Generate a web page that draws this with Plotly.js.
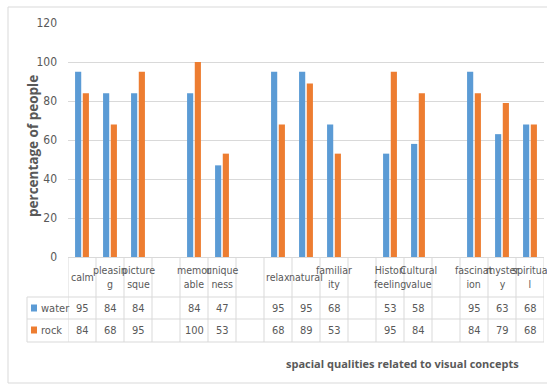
<!DOCTYPE html>
<html>
<head>
<meta charset="utf-8">
<script src="https://cdn.plot.ly/plotly-3.0.1.min.js"></script>
<style>html,body{margin:0;padding:0;background:#fff;}#chart{width:547px;height:385px;}</style>
</head>
<body>
<div id="chart"></div>
<script>
// Categories (empty strings are spacer columns in the original chart)
const categories = ["calm","pleasing","picturesque","","memorable","uniqueness","","relax","natural","familiarity","","Historic feeling","Cultural value","","fascination","mystery","spiritual"];
// Tick labels as wrapped in the data table
const tickLabels = ["calm","pleasin<br>g","picture<br>sque","","memor<br>able","unique<br>ness","","relax","natural","familiar<br>ity","","Histori<br>feeling","Cultural<br>value","","fascinat<br>ion","myster<br>y","spiritua<br>l"];
const seriesNames = ["water","rock"];
const water = [95,84,84,null,84,47,null,95,95,68,null,53,58,null,95,63,68];
const rock  = [84,68,95,null,100,53,null,68,89,53,null,95,84,null,84,79,68];
const colors = ["#5b9bd5","#ed7d31"];
const yTitle = "percentage of people";
const xTitle = "spacial qualities related to visual concepts";

const W = 547, H = 385;
const M = {l: 68, r: 3, t: 23, b: 128};
const plotW = W - M.l - M.r, plotH = H - M.t - M.b;
const px2x = p => (p - M.l) / plotW;         // pixel -> paper x
const py2y = p => (H - M.b - p) / plotH;      // pixel -> paper y

const idx = categories.map((c, i) => i);
const series = [water, rock];

const traces = series.map((vals, s) => ({
  type: "bar",
  x: idx,
  y: vals,
  name: seriesNames[s],
  marker: {color: colors[s]},
  hoverinfo: "none"
}));

const font = "Liberation Sans Narrow, DejaVu Sans Condensed, Arial Narrow, sans-serif";
const txtColor = "#595959";
const lineColor = "#d9d9d9";

const shapes = [];
const annotations = [];

// outer chart border
shapes.push({type: "rect", xref: "paper", yref: "paper",
  x0: px2x(8), x1: px2x(560), y0: py2y(383), y1: py2y(7),
  line: {color: "#d9d9d9", width: 1}, fillcolor: "rgba(0,0,0,0)", layer: "below"});

// table horizontal lines
const rowLines = [297, 319, 342];
rowLines.forEach(p => shapes.push({type: "line", xref: "paper", yref: "paper",
  x0: px2x(27), x1: 1, y0: py2y(p), y1: py2y(p), line: {color: lineColor, width: 1}}));
// table vertical lines at column boundaries
for (let i = 0; i <= categories.length; i++) {
  shapes.push({type: "line", xref: "x", yref: "paper",
    x0: i - 0.5, x1: i - 0.5, y0: py2y(342), y1: 0, line: {color: lineColor, width: 1}});
}
// left border of legend cells
shapes.push({type: "line", xref: "paper", yref: "paper",
  x0: px2x(27), x1: px2x(27), y0: py2y(342), y1: py2y(297), line: {color: lineColor, width: 1}});

// category labels
tickLabels.forEach((t, i) => {
  if (!t) return;
  annotations.push({xref: "x", yref: "paper", x: i, y: py2y(277), text: t,
    showarrow: false, font: {family: font, size: 10.5, color: txtColor},
    xanchor: "center", yanchor: "middle", align: "center"});
});
// values rows
const rowCenters = [308, 330];
series.forEach((vals, s) => {
  vals.forEach((v, i) => {
    if (v === null) return;
    annotations.push({xref: "x", yref: "paper", x: i, y: py2y(rowCenters[s]), text: String(v),
      showarrow: false, font: {family: font, size: 11, color: txtColor},
      xanchor: "center", yanchor: "middle"});
  });
  // legend key
  shapes.push({type: "rect", xref: "paper", yref: "paper",
    x0: px2x(31), x1: px2x(37), y0: py2y(rowCenters[s] + 3.5), y1: py2y(rowCenters[s] - 3.5),
    fillcolor: colors[s], line: {width: 0}});
  annotations.push({xref: "paper", yref: "paper", x: px2x(39), y: py2y(rowCenters[s]),
    text: seriesNames[s], showarrow: false, xanchor: "left", yanchor: "middle",
    font: {family: font, size: 11, color: txtColor}});
});

// titles
annotations.push({xref: "paper", yref: "paper", x: px2x(402), y: py2y(363), text: "<b>" + xTitle + "</b>",
  showarrow: false, xanchor: "center", yanchor: "middle",
  font: {family: "Open Sans, DejaVu Sans, sans-serif", size: 11, color: txtColor}});
annotations.push({xref: "paper", yref: "paper", x: px2x(33), y: py2y(146), text: "<b>" + yTitle + "</b>",
  showarrow: false, xanchor: "center", yanchor: "middle", textangle: -90,
  font: {family: "Open Sans, DejaVu Sans, sans-serif", size: 13.5, color: txtColor}});

const layout = {
  width: W, height: H,
  margin: M,
  paper_bgcolor: "#ffffff", plot_bgcolor: "#ffffff",
  showlegend: false,
  barmode: "group",
  bargap: 0.45, bargroupgap: 0.2,
  xaxis: {range: [-0.5, categories.length - 0.5], showticklabels: false, showgrid: false,
    zeroline: false, showline: false, ticks: "", fixedrange: true},
  yaxis: {range: [0, 120], dtick: 20, tick0: 0, showgrid: true, gridcolor: lineColor, gridwidth: 1,
    zeroline: true, zerolinecolor: lineColor, showline: false, ticks: "",
    ticklabelstandoff: 10,
    tickfont: {family: font, size: 12, color: txtColor}},
  shapes: shapes,
  annotations: annotations
};

Plotly.newPlot("chart", traces, layout, {displayModeBar: false, staticPlot: true});
</script>
</body>
</html>
